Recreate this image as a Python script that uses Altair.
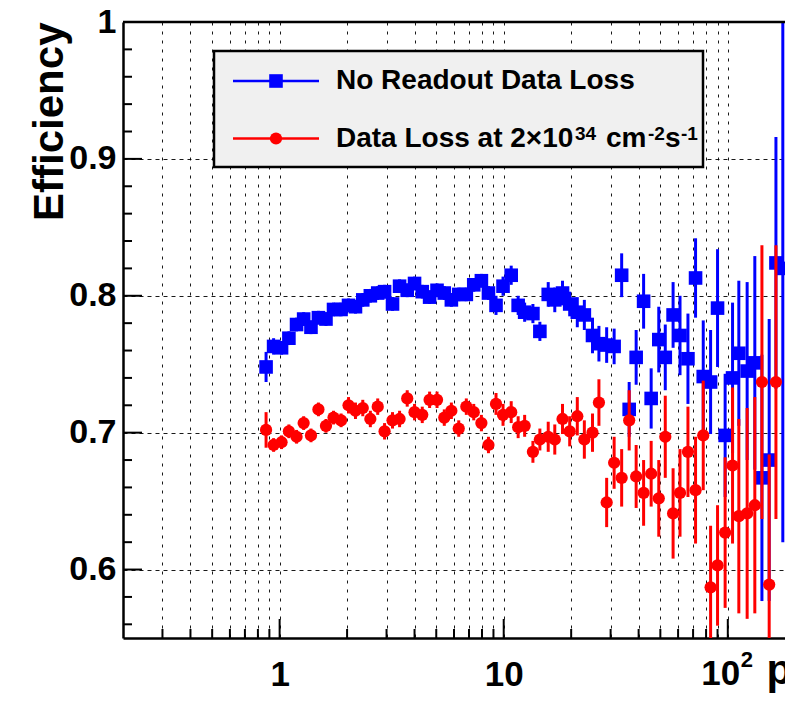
import altair as alt
import pandas as pd

# ---------------- data ----------------
pt = [0.87, 0.94, 1.02, 1.10, 1.19, 1.28, 1.38, 1.49, 1.61, 1.74,
      1.88, 2.03, 2.18, 2.35, 2.54, 2.74, 2.94, 3.19, 3.43, 3.71,
      4.00, 4.33, 4.67, 5.04, 5.43, 5.84, 6.30, 6.81, 7.35, 7.95,
      8.55, 9.24, 9.93, 10.8, 11.6, 12.4, 13.5, 14.5, 15.8, 16.9,
      18.3, 19.7, 21.3, 22.9, 24.9, 26.6, 28.8, 31.1, 33.6, 36.3,
      39.0, 42.1, 45.5, 49.2, 52.6, 57.0, 61.2, 66.4, 71.8, 77.7,
      83.8, 90.0, 97.3, 105.0, 112.0, 122.0, 132.0, 142.0, 153.0, 164.0,
      176.0]

eff_nominal = [0.748, 0.763, 0.762, 0.769, 0.779, 0.783, 0.777, 0.784, 0.783, 0.790,
               0.790, 0.793, 0.792, 0.797, 0.800, 0.802, 0.803, 0.794, 0.807, 0.804,
               0.809, 0.803, 0.799, 0.804, 0.802, 0.797, 0.801, 0.801, 0.808, 0.811,
               0.802, 0.793, 0.807, 0.815, 0.793, 0.788, 0.787, 0.774, 0.801, 0.797,
               0.802, 0.794, 0.788, 0.786, 0.771, 0.765, 0.764, 0.763, 0.815, 0.717,
               0.755, 0.796, 0.725, 0.768, 0.755, 0.786, 0.771, 0.754, 0.813, 0.741,
               0.737, 0.791, 0.698, 0.740, 0.758, 0.745, 0.751, 0.667, 0.680, 0.824,
               0.820]
err_nominal = [0.011, 0.006, 0.005, 0.005, 0.005, 0.005, 0.005, 0.005, 0.005, 0.005,
               0.005, 0.005, 0.005, 0.005, 0.005, 0.005, 0.005, 0.005, 0.005, 0.005,
               0.005, 0.005, 0.005, 0.005, 0.005, 0.005, 0.005, 0.005, 0.005, 0.005,
               0.005, 0.007, 0.007, 0.007, 0.007, 0.007, 0.007, 0.007, 0.009, 0.009,
               0.009, 0.009, 0.011, 0.011, 0.013, 0.013, 0.013, 0.013, 0.016, 0.020,
               0.020, 0.020, 0.022, 0.024, 0.024, 0.024, 0.029, 0.033, 0.029, 0.041,
               0.038, 0.043, 0.045, 0.055, 0.053, 0.065, 0.078, 0.090, 0.103, 0.092,
               0.200]

eff_loss = [0.702, 0.691, 0.693, 0.701, 0.697, 0.707, 0.698, 0.717, 0.705, 0.711,
            0.709, 0.720, 0.716, 0.718, 0.710, 0.719, 0.701, 0.709, 0.710, 0.725,
            0.715, 0.713, 0.724, 0.724, 0.711, 0.716, 0.703, 0.719, 0.715, 0.707,
            0.691, 0.721, 0.713, 0.715, 0.704, 0.705, 0.686, 0.695, 0.697, 0.695,
            0.710, 0.701, 0.712, 0.695, 0.700, 0.722, 0.649, 0.678, 0.667, 0.709,
            0.668, 0.656, 0.670, 0.652, 0.697, 0.641, 0.656, 0.686, 0.658, 0.698,
            0.587, 0.603, 0.627, 0.676, 0.639, 0.641, 0.647, 0.737, 0.589, 0.737,
            None]
err_loss = [0.013, 0.005, 0.005, 0.005, 0.005, 0.005, 0.005, 0.005, 0.005, 0.005,
            0.005, 0.006, 0.006, 0.006, 0.006, 0.006, 0.006, 0.006, 0.006, 0.006,
            0.006, 0.006, 0.006, 0.006, 0.006, 0.006, 0.006, 0.006, 0.006, 0.006,
            0.006, 0.008, 0.008, 0.008, 0.008, 0.008, 0.008, 0.008, 0.011, 0.011,
            0.011, 0.011, 0.014, 0.014, 0.014, 0.017, 0.018, 0.019, 0.021, 0.022,
            0.023, 0.024, 0.024, 0.028, 0.030, 0.033, 0.032, 0.033, 0.039, 0.040,
            0.045, 0.044, 0.055, 0.057, 0.071, 0.077, 0.079, 0.100, 0.095, 0.100,
            None]

series_colors = ["#0000ff", "#ff0000"]
# legend labels; the second one is split into normal text and superscripts
# (text, x offset in px from the legend text start, is_superscript)
legend_label_1 = [("No Readout Data Loss", 0, False)]
legend_label_2 = [("Data Loss at 2×10", 0, False), ("34", 239, True),
                  ("cm", 270, False), ("-2", 312, True), ("s", 329, False),
                  ("-1", 345, True)]

x_grid_values = [0.3, 0.4, 0.5, 0.6, 0.7, 0.8, 0.9, 1, 2, 3, 4, 5, 6, 7, 8, 9,
                 10, 20, 30, 40, 50, 60, 70, 80, 90, 100]
x_major_ticks = [1, 10, 100]
x_minor_ticks = [0.3, 0.4, 0.5, 0.6, 0.7, 0.8, 0.9, 2, 3, 4, 5, 6, 7, 8, 9,
                 20, 30, 40, 50, 60, 70, 80, 90]
y_major_ticks = [0.6, 0.7, 0.8, 0.9, 1.0]
y_minor_ticks = [0.56, 0.58, 0.62, 0.64, 0.66, 0.68, 0.72, 0.74, 0.76, 0.78,
                 0.82, 0.84, 0.86, 0.88, 0.92, 0.94, 0.96, 0.98]

# ---------------- tables ----------------
def series_frame(eff, err):
    df = pd.DataFrame({"pt": pt, "eff": eff, "err": err}).dropna()
    df["lo"] = df["eff"] - df["err"]
    df["hi"] = df["eff"] + df["err"]
    return df

df_nom = series_frame(eff_nominal, err_nominal)
df_loss = series_frame(eff_loss, err_loss)

FONT = "Liberation Sans"
W, H = 662, 616
xscale = alt.Scale(type="log", domain=[0.2, 180], nice=False)
yscale = alt.Scale(domain=[0.55, 1.0], nice=False, zero=False)

x_axis = alt.Axis(
    values=x_grid_values, grid=True, gridDash=[3, 6], gridColor="black",
    gridWidth=1, gridOpacity=0.9, ticks=False, domain=True, domainColor="black",
    domainWidth=2.5,
    labelExpr="datum.value == 1 ? '1' : datum.value == 10 ? '10' : ''",
    labelFont=FONT, labelFontSize=35, labelFontWeight="bold", labelColor="black",
    labelPadding=19, labelFlush=False, labelOverlap=False,
    title="pT (GeV/c)", titleFont=FONT, titleFontSize=42, titleFontWeight="bold",
    titleColor="black", titleX=643, titleY=45, titleAlign="left",
    titleBaseline="alphabetic", titleAngle=0)

y_axis = alt.Axis(
    values=y_major_ticks, grid=True, gridDash=[4, 4], gridColor="black",
    gridWidth=1, gridOpacity=0.9, ticks=False, domain=True, domainColor="black",
    domainWidth=2.5,
    labelExpr="datum.value == 1 ? '1' : format(datum.value, '.1f')",
    labelFont=FONT, labelFontSize=34, labelFontWeight="bold", labelColor="black",
    labelPadding=7, labelFlush=False, labelOverlap=False,
    title="Efficiency", titleFont=FONT, titleFontSize=42, titleFontWeight="bold",
    titleColor="black", titleX=-61, titleY=0, titleAlign="right",
    titleAngle=270, titleBaseline="alphabetic")


def X(field):
    return alt.X(field, scale=xscale, axis=x_axis)


def Y(field):
    return alt.Y(field, scale=yscale, axis=y_axis)


# error bars and markers
err_nom = alt.Chart(df_nom).mark_rule(color=series_colors[0], strokeWidth=3, clip=True).encode(
    x=X("pt:Q"), y=Y("lo:Q"), y2="hi:Q")
pts_nom = alt.Chart(df_nom).mark_square(size=185, color=series_colors[0], opacity=1, clip=True).encode(
    x=X("pt:Q"), y=Y("eff:Q"))
err_los = alt.Chart(df_loss).mark_rule(color=series_colors[1], strokeWidth=3, clip=True).encode(
    x=X("pt:Q"), y=Y("lo:Q"), y2="hi:Q")
pts_los = alt.Chart(df_loss).mark_circle(size=150, color=series_colors[1], opacity=1, clip=True).encode(
    x=X("pt:Q"), y=Y("eff:Q"))

# inward ticks
ytick_maj = alt.Chart(pd.DataFrame({"v": y_major_ticks[:-1]})).mark_rule(
    color="black", strokeWidth=2).encode(y=Y("v:Q"), x=alt.value(0), x2=alt.value(19))
ytick_min = alt.Chart(pd.DataFrame({"v": y_minor_ticks})).mark_rule(color="black", strokeWidth=2).encode(
    y=Y("v:Q"), x=alt.value(0), x2=alt.value(9))
xtick_maj = alt.Chart(pd.DataFrame({"v": x_major_ticks})).mark_rule(color="black", strokeWidth=2).encode(
    x=X("v:Q"), y=alt.value(H), y2=alt.value(H - 19))
xtick_min = alt.Chart(pd.DataFrame({"v": x_minor_ticks})).mark_rule(color="black", strokeWidth=2).encode(
    x=X("v:Q"), y=alt.value(H), y2=alt.value(H - 9))
top_frame = alt.Chart(pd.DataFrame({"a": [0]})).mark_rule(color="black", strokeWidth=2.5).encode(
    x=alt.value(0), x2=alt.value(W), y=alt.value(0))

# "10^2" label at the 100 tick, with a real superscript
hundred = pd.DataFrame({"v": [100]})
lab100 = alt.Chart(hundred).mark_text(
    text="10", align="center", baseline="top", font=FONT, fontSize=35,
    fontWeight="bold", color="black", dx=-7).encode(x=X("v:Q"), y=alt.value(H + 19))
lab100_sup = alt.Chart(hundred).mark_text(
    text="2", align="left", baseline="top", font=FONT, fontSize=22,
    fontWeight="bold", color="black", dx=13).encode(x=X("v:Q"), y=alt.value(H + 12))

# legend box
one = pd.DataFrame({"a": [0]})
legend_box = alt.Chart(one).mark_rect(fill="#f0f0f0", stroke="black", strokeWidth=2.5).encode(
    x=alt.value(91), x2=alt.value(580), y=alt.value(29), y2=alt.value(145))

legend_layers = []
row_y = [59, 116.5]
TEXT_X = 213
for pieces, col, ry, shape, size in zip([legend_label_1, legend_label_2], series_colors, row_y,
                                        ["square", "circle"], [185, 150]):
    legend_layers.append(alt.Chart(one).mark_rule(color=col, strokeWidth=2.5).encode(
        x=alt.value(110), x2=alt.value(196), y=alt.value(ry)))
    legend_layers.append(alt.Chart(one).mark_point(shape=shape, size=size, filled=True,
                                                     color=col, opacity=1).encode(
        x=alt.value(153), y=alt.value(ry)))
    for text, off, sup in pieces:
        if sup:
            legend_layers.append(alt.Chart(one).mark_text(
                text=text, align="left", baseline="alphabetic", font=FONT, fontSize=19,
                fontWeight="bold", color="black").encode(
                x=alt.value(TEXT_X + off), y=alt.value(ry + 1.5)))
        else:
            legend_layers.append(alt.Chart(one).mark_text(
                text=text, align="left", baseline="middle", font=FONT, fontSize=28,
                fontWeight="bold", color="black").encode(
                x=alt.value(TEXT_X + off), y=alt.value(ry)))

chart = alt.layer(
    err_nom, pts_nom, err_los, pts_los,
    ytick_maj, ytick_min, xtick_maj, xtick_min, top_frame, lab100, lab100_sup,
    legend_box, *legend_layers
).properties(
    width=W, height=H,
    padding={"left": 123, "top": 22, "right": 0, "bottom": 66},
    autosize=alt.AutoSizeParams(type="none"),
    background="white",
).configure_view(stroke=None)

chart.save("out.html", embed_options={"renderer": "svg", "actions": False})
